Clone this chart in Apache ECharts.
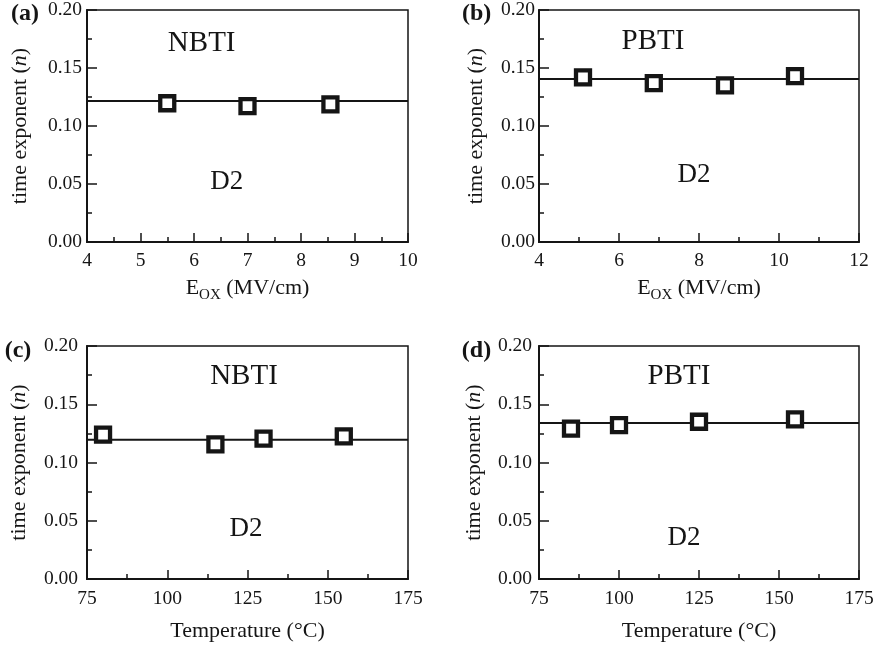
<!DOCTYPE html>
<html><head><meta charset="utf-8">
<script src="https://cdn.jsdelivr.net/npm/echarts@6/dist/echarts.min.js"></script>
<style>html,body{margin:0;padding:0;background:#fff}#c{width:879px;height:647px}</style>
</head><body><div id="c"></div>
<script>
// ---- data ----
const eoxA = [5.5, 7.0, 8.55];
const nA = [0.1196, 0.1172, 0.1187];
const fitA = 0.1215;
const eoxB = [5.1, 6.87, 8.65, 10.4];
const nB = [0.142, 0.137, 0.135, 0.143];
const fitB = 0.1405;
const tempC = [80, 115, 130, 155];
const nC = [0.124, 0.1155, 0.1205, 0.1225];
const fitC = 0.1195;
const tempD = [85, 100, 125, 155];
const nD = [0.129, 0.132, 0.135, 0.137];
const fitD = 0.1338;
const xTicksA = [4, 5, 6, 7, 8, 9, 10];
const xTicksB = [4, 6, 8, 10, 12];
const xTicksT = [75, 100, 125, 150, 175];
const yTicks = [0.00, 0.05, 0.10, 0.15, 0.20];
const panelLabels = ['(a)', '(b)', '(c)', '(d)'];
const modeLabels = ['NBTI', 'PBTI', 'NBTI', 'PBTI'];
const sampleLabel = 'D2';
const eoxName = '{e|E}{s|OX}{e| (MV/cm)}';
const tempName = 'Temperature (°C)';
const yName = '{t|time exponent (}{i|n}{t|)}';

// ---- layout ----
const FONT = 'Liberation Serif';
const INK = '#151515';
const panels = [
  {grid:{left:87, top:10, width:321, height:232}, xs:eoxA, ys:nA, fit:fitA, xt:xTicksA, xname:eoxName, xgap:32, ygap:56, ylm:5, xlm:9,
   lab:[25,13.5], mode:[201.7,43], d2:[226.7,182]},
  {grid:{left:539, top:10, width:320, height:232}, xs:eoxB, ys:nB, fit:fitB, xt:xTicksB, xname:eoxName, xgap:32, ygap:52, ylm:4, xlm:9,
   lab:[476.7,13.5], mode:[653,41], d2:[694,175]},
  {grid:{left:87, top:346, width:321, height:233}, xs:tempC, ys:nC, fit:fitC, xt:xTicksT, xname:tempName, xgap:41, ygap:57, ylm:9, xlm:10,
   lab:[18,351], mode:[244,376], d2:[246,529]},
  {grid:{left:539, top:346, width:320, height:233}, xs:tempD, ys:nD, fit:fitD, xt:xTicksT, xname:tempName, xgap:41, ygap:54, ylm:7, xlm:10,
   lab:[476.5,351], mode:[679,376], d2:[684,538]}
];

const tickStyle = {color: INK, width: 1.5};
const grids = [], xAxes = [], yAxes = [], series = [], graphics = [];
panels.forEach((p, i) => {
  grids.push(Object.assign({show:true, borderColor:INK, borderWidth:1.5, outerBoundsMode:'none', containLabel:false}, p.grid));
  xAxes.push({
    type:'value', gridIndex:i, min:p.xt[0], max:p.xt[p.xt.length-1], interval:p.xt[1]-p.xt[0],
    name:p.xname, nameLocation:'middle', nameGap:p.xgap,
    nameTextStyle:{fontFamily:FONT, fontSize:22, color:INK,
      rich:{e:{fontFamily:FONT, fontSize:22, color:INK}, s:{fontFamily:FONT, fontSize:15, color:INK, padding:[14,0,0,0]}}},
    axisLine:{show:true, onZero:false, lineStyle:{color:INK, width:2}},
    axisTick:{show:true, inside:true, length:9, lineStyle:tickStyle},
    minorTick:{show:true, splitNumber:2, length:5, lineStyle:tickStyle},
    axisLabel:{margin:p.xlm, fontFamily:FONT, fontSize:19.5, color:INK},
    splitLine:{show:false}, minorSplitLine:{show:false}
  });
  yAxes.push({
    type:'value', gridIndex:i, min:yTicks[0], max:yTicks[yTicks.length-1], interval:yTicks[1]-yTicks[0],
    name:yName, nameLocation:'middle', nameRotate:90, nameGap:p.ygap,
    nameTextStyle:{fontFamily:FONT, fontSize:22, color:INK,
      rich:{t:{fontFamily:FONT, fontSize:22, color:INK}, i:{fontFamily:FONT, fontSize:22, fontStyle:'italic', color:INK}}},
    axisLine:{show:true, onZero:false, lineStyle:{color:INK, width:2}},
    axisTick:{show:true, inside:true, length:10, lineStyle:tickStyle},
    minorTick:{show:true, splitNumber:2, length:5, lineStyle:tickStyle},
    axisLabel:{margin:p.ylm, fontFamily:FONT, fontSize:19.5, color:INK, formatter:v => v.toFixed(2)},
    splitLine:{show:false}, minorSplitLine:{show:false}
  });
  series.push({
    type:'line', xAxisIndex:i, yAxisIndex:i, silent:true, symbol:'none', z:2,
    data:[[p.xt[0], p.fit], [p.xt[p.xt.length-1], p.fit]],
    lineStyle:{color:INK, width:2}
  });
  series.push({
    type:'scatter', xAxisIndex:i, yAxisIndex:i, z:3, symbol:'rect', symbolSize:14,
    data:p.xs.map((x, k) => [x, p.ys[k]]),
    itemStyle:{color:'#fff', borderColor:INK, borderWidth:4.3, opacity:1}
  });
  graphics.push({type:'text', x:p.lab[0], y:p.lab[1], style:{text:panelLabels[i], fontFamily:FONT, fontSize:24, fontWeight:'bold', fill:INK, align:'center', verticalAlign:'middle'}});
  graphics.push({type:'text', x:p.mode[0], y:p.mode[1], style:{text:modeLabels[i], fontFamily:FONT, fontSize:29, fill:INK, align:'center', verticalAlign:'middle'}});
  graphics.push({type:'text', x:p.d2[0], y:p.d2[1], style:{text:sampleLabel, fontFamily:FONT, fontSize:27, fill:INK, align:'center', verticalAlign:'middle'}});
});

const chart = echarts.init(document.getElementById('c'), null, {renderer:'canvas'});
chart.setOption({
  animation:false, backgroundColor:'#fff',
  grid:grids, xAxis:xAxes, yAxis:yAxes, series:series, graphic:graphics
});
</script></body></html>
